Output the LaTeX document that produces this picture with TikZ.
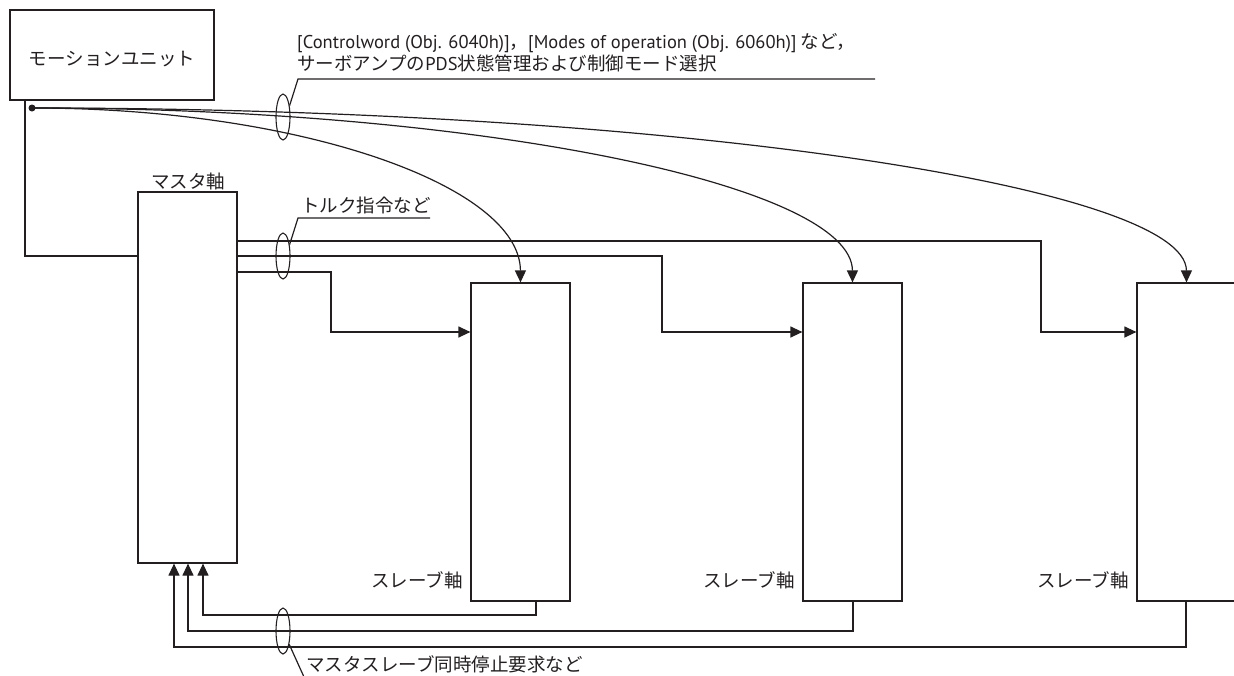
\documentclass[tikz,border=0pt]{standalone}
\usepackage{fontspec}
\setmainfont{Noto Sans CJK JP}
\newfontfamily\latinf{PT Sans}
\usetikzlibrary{arrows.meta,shapes.geometric}
\definecolor{ink}{HTML}{231F20}
\begin{document}
\begin{tikzpicture}[x=1pt,y=-1pt,
  ln/.style={draw=ink, line width=1.2pt},
  box/.style={draw=ink, line width=1.2pt, inner sep=0pt, minimum width=99pt, minimum height=318pt},
  lbl/.style={text=ink, inner sep=0pt, font=\fontsize{18.5}{22}\selectfont},
  arr/.style={ln, -{Triangle[length=12pt,width=11pt]}},
  ring/.style={draw=ink, line width=1.1pt, ellipse, inner sep=0pt, minimum width=14pt, minimum height=46pt}]
\useasboundingbox (0,0) rectangle (1234,675);
% boxes
\node[box, minimum width=204pt, minimum height=90pt] (mu) at (112,55) {};
\node[lbl] (mut) at (112,59) {モーションユニット};
\node[box, minimum height=371pt] (m) at (187.5,377.5) {};
\node[box] (s1) at (520.5,442) {};
\node[box] (s2) at (852.5,442) {};
\node[box] (s3) at (1186.5,442) {};
% labels
\node[lbl] (ml) at (188,181) {マスタ軸};
\node[lbl, anchor=east] (sl1) at (463,580) {スレーブ軸};
\node[lbl, anchor=east] (sl2) at (795,580) {スレーブ軸};
\node[lbl, anchor=east] (sl3) at (1129,580) {スレーブ軸};
% dot and curves
\node[circle, fill=ink, inner sep=0pt, minimum size=7pt] (d) at (32,108) {};
\draw[arr] (d.center) .. controls (301,108) and (520,186) .. (s1.north);
\draw[arr] (d.center) .. controls (485,108) and (852,186) .. (s2.north);
\draw[arr] (d.center) .. controls (669,108) and (1186,186) .. (s3.north);
% motion unit to master
\draw[ln] (mu.south -| 25,0) |- (m.west |- 0,256);
% torque commands
\draw[arr] (m.east |- 0,241) -| (1041,332) -- (s3.west |- 0,332);
\draw[arr] (m.east |- 0,256) -| (662,332) -- (s2.west |- 0,332);
\draw[arr] (m.east |- 0,272) -| (331,332) -- (s1.west |- 0,332);
% stop requests
\draw[arr] (s1.south -| 536,0) |- (203,615) -- (m.south -| 203,0);
\draw[arr] (s2.south -| 853,0) |- (188,631) -- (m.south -| 188,0);
\draw[arr] (s3.south -| 1186,0) |- (174,647) -- (m.south -| 174,0);
% rings and leaders
\node[ring] (e1) at (283,117) {};
\node[ring] (e2) at (283,256) {};
\node[ring] (e3) at (283,631) {};
\coordinate (k1) at (298,79);
\coordinate (k1e) at (875,79);
\draw[ln] (e1.60) -- (k1) -- (k1e);
\node[lbl, anchor=west] (t1a) at (297,43) {{\latinf [Controlword (Obj. 6040h)]}，{\latinf [Modes of operation (Obj. 6060h)]} など，};
\node[lbl, anchor=west] (t1b) at (297,63) {サーボアンプの{\latinf PDS}状態管理および制御モード選択};
\coordinate (k2) at (298,218);
\coordinate (k2e) at (430,218);
\draw[ln] (e2.60) -- (k2) -- (k2e);
\node[lbl, anchor=west] (t2) at (301,205) {トルク指令など};
\coordinate (k3) at (304,677);
\draw[ln] (e3.-65) -- (k3);
\node[lbl, anchor=west] (t3) at (306,664) {マスタスレーブ同時停止要求など};
\end{tikzpicture}
\end{document}
